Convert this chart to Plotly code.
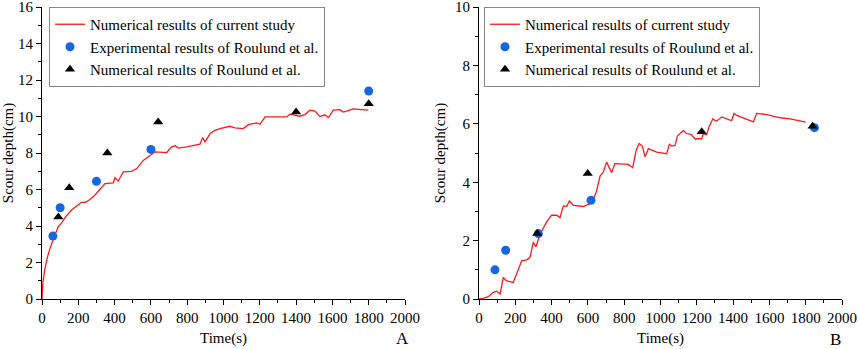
import plotly.graph_objects as go

# ---- Panel A data ----
a_curve_t = [0, 5, 15, 30, 45, 60, 75, 90, 110, 130, 163, 191, 218, 240, 264, 292, 320, 347, 393, 402, 420, 448, 494, 522, 558, 604, 623, 687, 714, 733, 751, 797, 870, 885, 898, 926, 953, 981, 1036, 1063, 1109, 1137, 1183, 1201, 1229, 1348, 1366, 1421, 1449, 1476, 1504, 1531, 1559, 1578, 1605, 1641, 1660, 1679, 1715, 1761, 1798]
a_curve_d = [0, 0.9, 1.6, 2.3, 2.8, 3.25, 3.6, 3.97, 4.2, 4.5, 4.88, 5.1, 5.3, 5.3, 5.45, 5.7, 6.05, 6.33, 6.37, 6.65, 6.47, 6.97, 7.0, 7.15, 7.6, 7.94, 8.07, 8.03, 8.34, 8.4, 8.27, 8.34, 8.49, 8.85, 8.6, 9.07, 9.25, 9.34, 9.47, 9.38, 9.34, 9.56, 9.65, 9.58, 9.98, 9.98, 10.13, 10.02, 10.11, 10.35, 10.3, 10.0, 10.1, 9.95, 10.35, 10.38, 10.25, 10.3, 10.42, 10.38, 10.35]
a_exp_t = [60, 100, 300, 600, 1800]
a_exp_d = [3.45, 5.0, 6.45, 8.2, 11.4]
a_num_t = [90, 150, 360, 640, 1400, 1800]
a_num_d = [4.5, 6.1, 8.0, 9.7, 10.25, 10.7]

# ---- Panel B data ----
b_curve_t = [0, 24, 51, 79, 97, 116, 134, 149, 189, 235, 263, 281, 299, 314, 336, 373, 400, 428, 446, 465, 483, 498, 520, 575, 590, 608, 630, 648, 667, 685, 703, 731, 749, 823, 847, 865, 882, 900, 915, 933, 979, 1034, 1049, 1062, 1080, 1093, 1117, 1126, 1144, 1168, 1190, 1227, 1236, 1254, 1269, 1288, 1309, 1337, 1383, 1392, 1405, 1420, 1512, 1530, 1585, 1659, 1714, 1800]
b_curve_d = [0, 0.02, 0.08, 0.23, 0.27, 0.17, 0.74, 0.63, 0.57, 1.31, 1.34, 1.42, 1.94, 1.79, 2.22, 2.64, 2.87, 2.87, 2.79, 3.19, 3.17, 3.36, 3.21, 3.17, 3.21, 3.26, 3.42, 3.7, 4.21, 4.35, 4.69, 4.33, 4.64, 4.61, 4.5, 5.07, 5.33, 5.24, 4.87, 5.15, 5.03, 4.98, 5.3, 5.24, 5.26, 5.58, 5.72, 5.77, 5.67, 5.64, 5.49, 5.49, 5.66, 5.64, 5.92, 6.17, 6.09, 6.24, 6.13, 6.12, 6.36, 6.29, 6.07, 6.36, 6.32, 6.21, 6.17, 6.06]
b_exp_t = [88, 147, 327, 617, 1848]
b_exp_d = [1.0, 1.67, 2.24, 3.38, 5.87]
b_num_t = [321, 599, 1227, 1838]
b_num_d = [2.24, 4.3, 5.73, 5.92]

names = ["Numerical results of current study",
         "Experimental results of Roulund et al.",
         "Numerical results of Roulund et al."]

FONT = "Liberation Serif"
RED = "#ff1a1a"
BLUE = "#1666e0"

fig = go.Figure()
for (ct, cd, et, ed, nt, nd, xa, ya, lg) in [
    (a_curve_t, a_curve_d, a_exp_t, a_exp_d, a_num_t, a_num_d, "x", "y", "legend"),
    (b_curve_t, b_curve_d, b_exp_t, b_exp_d, b_num_t, b_num_d, "x2", "y2", "legend2"),
]:
    fig.add_trace(go.Scatter(x=ct, y=cd, mode="lines", name=names[0],
                             line=dict(color=RED, width=1.3), xaxis=xa, yaxis=ya, legend=lg))
    fig.add_trace(go.Scatter(x=et, y=ed, mode="markers", name=names[1],
                             marker=dict(color=BLUE, size=9, symbol="circle"),
                             xaxis=xa, yaxis=ya, legend=lg))
    fig.add_trace(go.Scatter(x=nt, y=nd, mode="markers", name=names[2],
                             marker=dict(color="black", size=9, symbol="triangle-up"),
                             xaxis=xa, yaxis=ya, legend=lg))

def xaxis(domain, anchor):
    return dict(domain=domain, anchor=anchor, range=[0, 2000], dtick=200, tick0=0,
                showline=True, linecolor="black", linewidth=1, mirror=False, automargin=False,
                ticks="outside", ticklen=5, tickcolor="black", showgrid=False, zeroline=False,
                ticklabeloverflow="allow",
                minor=dict(dtick=100, ticks="outside", ticklen=3, tickcolor="black"),
                tickfont=dict(family=FONT, size=15, color="black"),
                title=dict(text="Time(s)", font=dict(family=FONT, size=15, color="black"), standoff=7))

def yaxis(domain, anchor, top):
    return dict(domain=domain, anchor=anchor, range=[0, top * 1.0005], dtick=2, tick0=0,
                showline=True, linecolor="black", linewidth=1, mirror=False, automargin=False,
                ticks="outside", ticklen=5, tickcolor="black", showgrid=False, zeroline=False,
                ticklabeloverflow="allow",
                minor=dict(dtick=1, ticks="outside", ticklen=3, tickcolor="black"),
                tickfont=dict(family=FONT, size=15, color="black"),
                title=dict(text="Scour depth(cm)", font=dict(family=FONT, size=15, color="black"), standoff=5))

ydom = [1 - 299 / 349, 1 - 7 / 349]
legstyle = dict(yanchor="top", xanchor="left", bgcolor="white", bordercolor="#888888",
                borderwidth=1, font=dict(family=FONT, size=15, color="black"),
                tracegroupgap=0, itemwidth=30)

fig.update_layout(
    width=858, height=349,
    margin=dict(l=0, r=0, t=0, b=0, autoexpand=False),
    font=dict(family=FONT),
    paper_bgcolor="white", plot_bgcolor="white",
    xaxis=xaxis([42 / 858, 405 / 858], "y"),
    yaxis=yaxis(ydom, "x", 16),
    xaxis2=xaxis([479 / 858, 842 / 858], "y2"),
    yaxis2=yaxis(ydom, "x2", 10),
    legend=dict(x=49 / 858, y=1 - 7 / 349, **legstyle),
    legend2=dict(x=484 / 858, y=1 - 7 / 349, **legstyle),
    annotations=[
        dict(text="A", x=402 / 858, y=1 - 338 / 349, xref="paper", yref="paper",
             xanchor="center", yanchor="middle",
             showarrow=False, font=dict(family=FONT, size=17, color="black")),
        dict(text="B", x=835 / 858, y=1 - 339 / 349, xref="paper", yref="paper",
             xanchor="center", yanchor="middle",
             showarrow=False, font=dict(family=FONT, size=17, color="black")),
    ],
)

fig.write_html("out.html", config={"displayModeBar": False},
               post_script="document.body.style.margin='0';document.body.style.overflow='hidden';")
